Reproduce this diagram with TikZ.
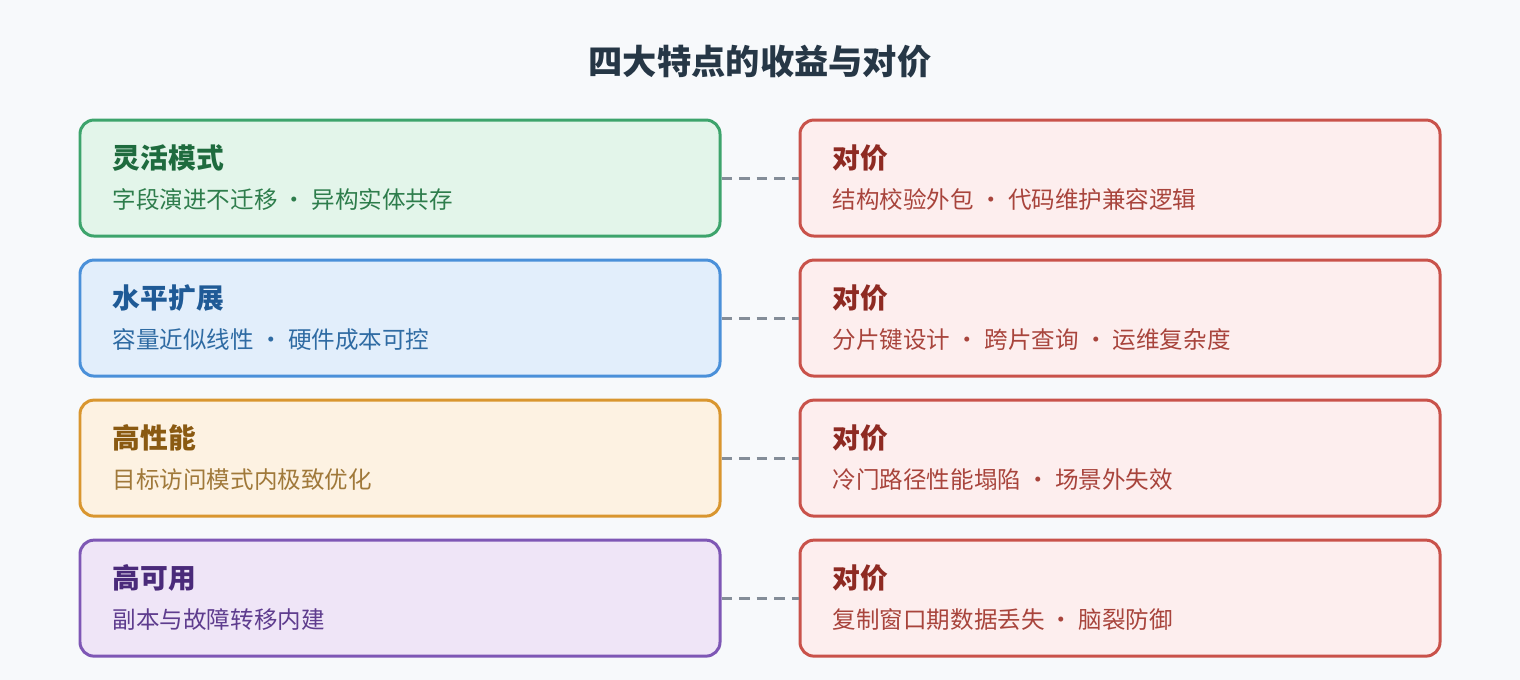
\documentclass[tikz,border=0pt]{standalone}
\usepackage{fontspec}
\setmainfont{Noto Sans CJK SC}
\usetikzlibrary{positioning, calc}
\definecolor{bgc}{HTML}{F7F9FB}
\definecolor{gline}{HTML}{3DA46C}\definecolor{gfill}{HTML}{E3F5EA}\definecolor{gtext}{HTML}{1E6B3E}\definecolor{gsub}{HTML}{2E7D4C}
\definecolor{bline}{HTML}{4A90D9}\definecolor{bfill}{HTML}{E2EEFB}\definecolor{btext}{HTML}{1F5A96}\definecolor{bsub}{HTML}{2F6BA3}
\definecolor{oline}{HTML}{D9962F}\definecolor{ofill}{HTML}{FDF2E2}\definecolor{otext}{HTML}{8A5A12}\definecolor{osub}{HTML}{A0793A}
\definecolor{pline}{HTML}{7E57B5}\definecolor{pfill}{HTML}{EFE5F7}\definecolor{ptext}{HTML}{4A2A7A}\definecolor{psub}{HTML}{5E3C8E}
\definecolor{rline}{HTML}{C9524A}\definecolor{rfill}{HTML}{FDEEEE}\definecolor{rtext}{HTML}{8E2A22}\definecolor{rsub}{HTML}{A8443C}
\definecolor{dashc}{HTML}{848D98}\definecolor{titlec}{HTML}{263746}
\tikzset{
  card/.style={draw=#1line, fill=#1fill, line width=1.7pt, rounded corners=0.28cm,
    minimum width=12.8cm, minimum height=2.32cm, inner sep=0pt},
  head/.style={font=\fontsize{15.8}{18}\selectfont\bfseries, text=#1text, anchor=west},
  sub/.style={font=\fontsize{13.4}{16}\selectfont, text=#1sub, anchor=west},
  link/.style={dashc, line width=1.7pt, dash pattern=on 6pt off 4pt}
}
\begin{document}
\begin{tikzpicture}
\fill[bgc] (0,0) rectangle (30.4,-13.6);
\useasboundingbox (0,0) rectangle (30.4,-13.6);
\node[font=\fontsize{19.5}{22}\selectfont\bfseries, text=titlec] (title) at (15.2,-1.24) {四大特点的收益与对价};

% benefit / cost rows
\foreach \i/\c/\h/\s/\t in {
  1/g/灵活模式/字段演进不迁移~·~异构实体共存/结构校验外包~·~代码维护兼容逻辑,
  2/b/水平扩展/容量近似线性~·~硬件成本可控/分片键设计~·~跨片查询~·~运维复杂度,
  3/o/高性能/目标访问模式内极致优化/冷门路径性能塌陷~·~场景外失效,
  4/p/高可用/副本与故障转移内建/复制窗口期数据丢失~·~脑裂防御} {
  \pgfmathsetmacro\yc{-(178+140*(\i-1))*0.02}
  \node[card=\c] (gain\i) at (8.0,\yc) {};
  \node[card=r] (cost\i) at (22.4,\yc) {};
  \node[head=\c] at ($(gain\i.west)+(0.56,0.4)$) {\h};
  \node[sub=\c] at ($(gain\i.west)+(0.56,-0.42)$) {\s};
  \node[head=r] at ($(cost\i.west)+(0.56,0.4)$) {对价};
  \node[sub=r] at ($(cost\i.west)+(0.56,-0.42)$) {\t};
  \draw[link] (gain\i.east) -- (cost\i.west);
}
\end{tikzpicture}
\end{document}
